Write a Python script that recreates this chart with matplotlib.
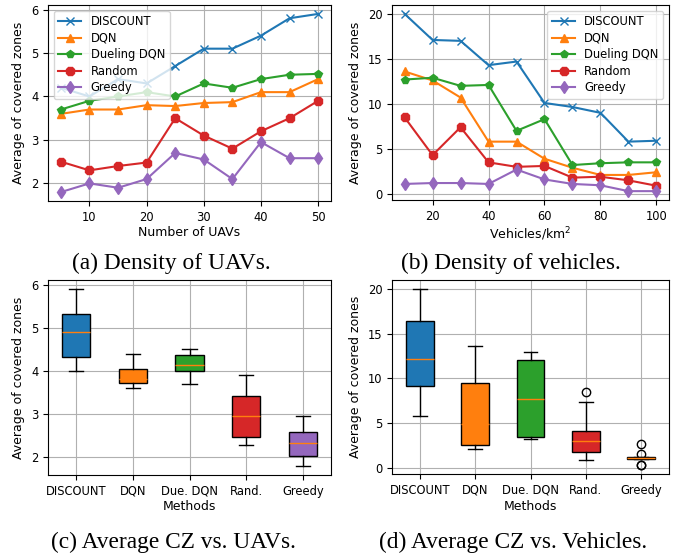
import numpy as np
import matplotlib.pyplot as plt

# data
methods = ['DISCOUNT', 'DQN', 'Dueling DQN', 'Random', 'Greedy']
box_labels = ['DISCOUNT', 'DQN', 'Due. DQN', 'Rand.', 'Greedy']
markers = ['x', '^', 'p', '8', 'd']
colors = ['C0', 'C1', 'C2', 'C3', 'C4']

uavs = [5, 10, 15, 20, 25, 30, 35, 40, 45, 50]
uav_discount = [4.2, 4.0, 4.4, 4.3, 4.7, 5.1, 5.1, 5.4, 5.8, 5.9]
uav_dqn = [3.6, 3.7, 3.7, 3.8, 3.78, 3.85, 3.87, 4.1, 4.1, 4.4]
uav_dueling = [3.7, 3.9, 4.0, 4.1, 4.0, 4.3, 4.2, 4.4, 4.5, 4.52]
uav_random = [2.5, 2.3, 2.4, 2.48, 3.5, 3.1, 2.8, 3.2, 3.5, 3.9]
uav_greedy = [1.8, 2.0, 1.9, 2.1, 2.7, 2.55, 2.1, 2.95, 2.58, 2.58]

vehicles = [10, 20, 30, 40, 50, 60, 70, 80, 90, 100]
veh_discount = [20.0, 17.1, 17.0, 14.3, 14.7, 10.1, 9.65, 9.0, 5.8, 5.9]
veh_dqn = [13.6, 12.6, 10.7, 5.8, 5.8, 3.9, 2.9, 2.1, 2.1, 2.4]
veh_dueling = [12.7, 12.9, 12.0, 12.1, 7.0, 8.3, 3.2, 3.4, 3.5, 3.5]
veh_random = [8.5, 4.3, 7.4, 3.5, 3.0, 3.1, 1.8, 1.9, 1.5, 0.9]
veh_greedy = [1.1, 1.2, 1.2, 1.1, 2.7, 1.6, 1.1, 0.95, 0.3, 0.3]

uav_series = [uav_discount, uav_dqn, uav_dueling, uav_random, uav_greedy]
veh_series = [veh_discount, veh_dqn, veh_dueling, veh_random, veh_greedy]

plt.rcParams['font.size'] = 9
plt.rcParams['xtick.labelsize'] = 8.3
plt.rcParams['ytick.labelsize'] = 8.3
fig = plt.figure(figsize=(6.78, 5.53), dpi=100)
W, H = 678, 553


def ax_at(x0, y0, x1, y1):
    return fig.add_axes([x0 / W, 1 - y1 / H, (x1 - x0) / W, (y1 - y0) / H])


ax_a = ax_at(48, 5, 331, 201)
ax_b = ax_at(392, 5, 669, 200)
ax_c = ax_at(48, 280, 331, 475)
ax_d = ax_at(392, 280, 669, 474)

# line plots
for ax, x, series, xlabel, loc in [(ax_a, uavs, uav_series, 'Number of UAVs', 'upper left'),
                                    (ax_b, vehicles, veh_series, 'Vehicles/km$^2$', 'upper right')]:
    for name, y, m, c in zip(methods, series, markers, colors):
        ax.plot(x, y, marker=m, color=c, label=name, markersize=6)
    ax.grid(True)
    ax.set_xlabel(xlabel, labelpad=2)
    ax.set_ylabel('Average of covered zones')
    ax.legend(loc=loc, fontsize=8.3, labelspacing=0.3)

ax_a.set_yticks([2, 3, 4, 5, 6])
ax_a.set_xticks([10, 20, 30, 40, 50])
ax_b.set_yticks([0, 5, 10, 15, 20])
ax_b.set_xticks([20, 40, 60, 80, 100])

# box plots built from the same series
for ax, series in [(ax_c, uav_series), (ax_d, veh_series)]:
    bp = ax.boxplot(series, patch_artist=True, widths=0.5)
    for patch, c in zip(bp['boxes'], colors):
        patch.set_facecolor(c)
    ax.set_xticks(range(1, 6))
    ax.set_xticklabels(box_labels)
    ax.grid(True)
    ax.set_xlabel('Methods', labelpad=2)
    ax.set_ylabel('Average of covered zones')

ax_c.set_yticks([2, 3, 4, 5, 6])
ax_d.set_yticks([0, 5, 10, 15, 20])

# captions
cap = dict(family='Liberation Serif', fontsize=16.8, ha='center', va='center')
fig.text(171 / W, 1 - 263 / H, '(a) Density of UAVs.', **cap)
fig.text(511 / W, 1 - 263 / H, '(b) Density of vehicles.', **cap)
fig.text(173 / W, 1 - 542 / H, '(c) Average CZ vs. UAVs.', **cap)
fig.text(513 / W, 1 - 542 / H, '(d) Average CZ vs. Vehicles.', **cap)

fig.savefig('out.png', dpi=100)
